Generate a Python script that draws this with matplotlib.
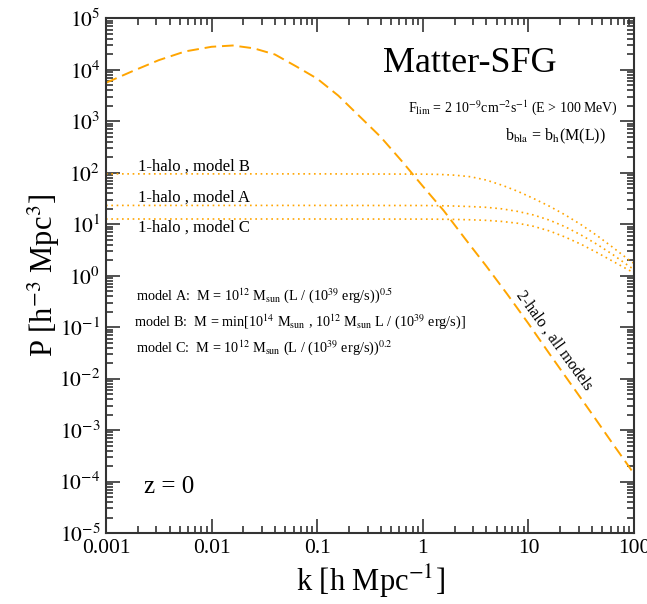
import numpy as np
import matplotlib
matplotlib.use("Agg")
import matplotlib.pyplot as plt
from matplotlib.ticker import LogLocator, FixedLocator, FixedFormatter, NullFormatter

plt.rcParams['font.family'] = ['Liberation Serif', 'DejaVu Serif']
plt.rcParams['mathtext.fontset'] = 'stix'

# values (log10 k, log10 P)
logk_2h = [-3.0, -2.75, -2.5, -2.25, -2.0, -1.8, -1.6, -1.4, -1.2, -1.0, -0.8,
           -0.6, -0.4, -0.2, 0.0, 0.2, 0.4, 0.6, 0.8, 1.0, 1.2, 1.4, 1.6, 1.8, 2.0]
logP_2h = [3.75, 3.975, 4.19, 4.36, 4.45, 4.475, 4.42, 4.3, 4.07, 3.83, 3.5,
           3.1, 2.7, 2.23, 1.74, 1.26, 0.72, 0.19, -0.36, -0.93, -1.52, -2.1,
           -2.68, -3.27, -3.85]

logk_1h = [-3.0, -1.0, 0.0, 0.15, 0.3, 0.45, 0.6, 0.75, 0.9, 1.05, 1.2,
           1.35, 1.5, 1.65, 1.8, 1.95, 2.0]
logP_B = [1.98, 1.98, 1.975, 1.97, 1.955, 1.925, 1.86, 1.76, 1.64, 1.50, 1.35,
          1.18, 0.99, 0.78, 0.55, 0.31, 0.24]
logP_A = [1.367, 1.367, 1.365, 1.362, 1.355, 1.345, 1.33, 1.30, 1.25, 1.18, 1.08,
          0.95, 0.79, 0.61, 0.41, 0.19, 0.12]
logP_C = [1.103, 1.103, 1.101, 1.099, 1.095, 1.088, 1.077, 1.055, 1.02, 0.96, 0.87,
          0.75, 0.61, 0.45, 0.28, 0.11, 0.06]

orange = '#FFA500'
k2 = 10 ** np.array(logk_2h)
k1 = 10 ** np.array(logk_1h)

fig = plt.figure(figsize=(6.47, 6.04), dpi=100)
ax = fig.add_axes([0.1638, 0.1175, 0.8162, 0.8519])

ax.plot(k2, 10 ** np.array(logP_2h), color=orange, lw=1.4, ls=(0, (6, 3)))
for lp in (logP_B, logP_A, logP_C):
    ax.plot(k1, 10 ** np.array(lp), color=orange, lw=1.2, ls=(0, (1, 2.2)))

ax.set_xscale('log')
ax.set_yscale('log')
ax.set_xlim(1e-3, 100)
ax.set_ylim(1e-5, 1e5)

xt = [1e-3, 1e-2, 0.1, 1, 10, 100]
ax.xaxis.set_major_locator(FixedLocator(xt))
ax.xaxis.set_major_formatter(FixedFormatter(['0.001', '0.01', '0.1', '1', '10', '100']))
ax.xaxis.set_minor_locator(LogLocator(base=10, subs=np.arange(2, 10), numticks=20))
ax.xaxis.set_minor_formatter(NullFormatter())
yt = [10.0 ** e for e in range(-5, 6)]
ax.yaxis.set_major_locator(FixedLocator(yt))
ax.yaxis.set_major_formatter(FixedFormatter([r'$10^{%d}$' % e for e in range(-5, 6)]))
ax.yaxis.set_minor_locator(LogLocator(base=10, subs=np.arange(2, 10), numticks=20))
ax.yaxis.set_minor_formatter(NullFormatter())

ax.tick_params(which='both', direction='in', top=True, right=True, width=1.2, color='#333333')
ax.tick_params(which='major', length=10, labelsize=15.5, pad=4)
ax.tick_params(which='minor', length=5)
for s in ax.spines.values():
    s.set_linewidth(1.5)
    s.set_color('#333333')

ax.set_xlabel(r'k [h Mpc$^{-1}$]', fontsize=22, labelpad=4)
ax.set_ylabel(r'P [h$^{-3}$ Mpc$^{3}$]', fontsize=22)
ax.yaxis.set_label_coords(-0.083, 0.5)

ax.text(0.689, 0.913, 'Matter-SFG', transform=ax.transAxes, fontsize=26, ha='center', va='center')
ax.text(0.97, 0.826, r'F$_{\rm lim}$ = 2 10$^{-9}$cm$^{-2}$s$^{-1}$ (E > 100 MeV)',
        transform=ax.transAxes, fontsize=10, ha='right', va='center')
ax.text(0.947, 0.77, r'b$_{\rm bla}$ = b$_{\rm h}$(M(L))', transform=ax.transAxes,
        fontsize=11.5, ha='right', va='center')

ax.text(0.06, 0.712, '1-halo , model B', transform=ax.transAxes, fontsize=12, va='center')
ax.text(0.06, 0.652, '1-halo , model A', transform=ax.transAxes, fontsize=12, va='center')
ax.text(0.06, 0.594, '1-halo , model C', transform=ax.transAxes, fontsize=12, va='center')

ax.text(0.057, 0.462, r'model A:  M = 10$^{12}$ M$_{\rm sun}$ (L / (10$^{39}$ erg/s))$^{0.5}$',
        transform=ax.transAxes, fontsize=10.3, va='center')
ax.text(0.053, 0.41, r'model B:  M = min[10$^{14}$ M$_{\rm sun}$ , 10$^{12}$ M$_{\rm sun}$ L / (10$^{39}$ erg/s)]',
        transform=ax.transAxes, fontsize=10.3, va='center')
ax.text(0.057, 0.361, r'model C:  M = 10$^{12}$ M$_{\rm sun}$ (L / (10$^{39}$ erg/s))$^{0.2}$',
        transform=ax.transAxes, fontsize=10.3, va='center')

ax.text(0.848, 0.375, '2-halo , all models', transform=ax.transAxes, fontsize=11.5,
        rotation=-54, ha='center', va='center')
ax.text(0.072, 0.09, 'z = 0', transform=ax.transAxes, fontsize=18, va='center')

fig.savefig('out.png', dpi=100)
